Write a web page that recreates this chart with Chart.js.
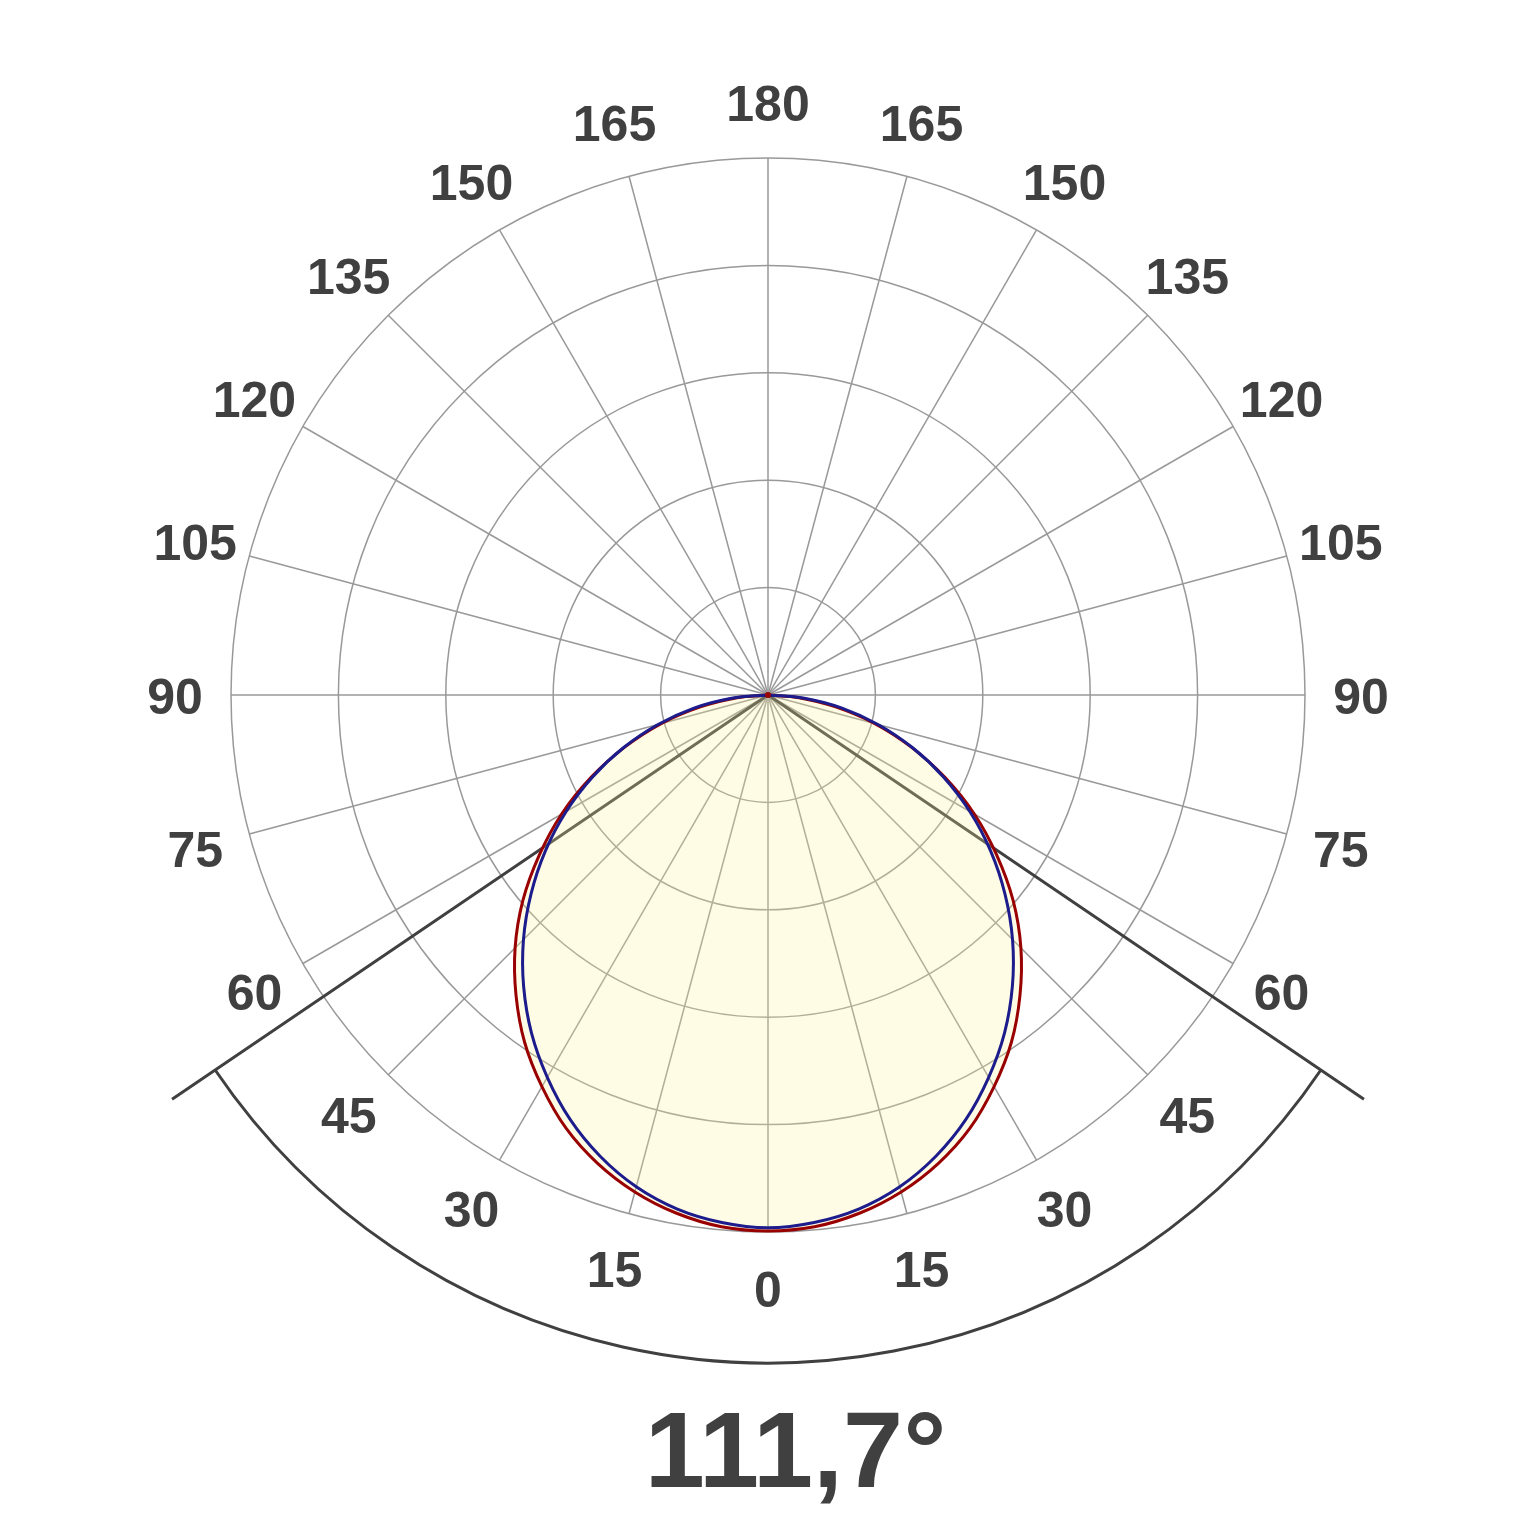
<!DOCTYPE html>
<html>
<head>
<meta charset="utf-8">
<script src="https://cdn.jsdelivr.net/npm/chart.js@4.4.1/dist/chart.umd.min.js"></script>
<style>
  html, body { margin: 0; padding: 0; background: #fff; }
  #wrap { width: 1536px; height: 1536px; }
</style>
</head>
<body>
<div id="wrap"><canvas id="polarChart"></canvas></div>
<script>
// gamma angles (deg) of one half plane, 0 = straight down, 180 = up
const gamma = [0, 5, 10, 15, 20, 25, 30, 35, 40, 45, 50, 55, 60, 65, 70, 75, 80, 85, 90,
  95, 100, 105, 110, 115, 120, 125, 130, 135, 140, 145, 150, 155, 160, 165, 170, 175, 180];
// red curve (C0 - C180)
const intensityC0 = [499, 497, 490, 479, 464, 445, 421, 395, 365, 333, 298, 260, 222, 182, 142, 103, 64, 29, 0,
  0, 0, 0, 0, 0, 0, 0, 0, 0, 0, 0, 0, 0, 0, 0, 0, 0, 0];
// blue curve (C90 - C270)
const intensityC90 = [496, 493, 486, 474, 457, 436, 411, 384, 354, 322, 288, 253, 217, 180, 143, 106, 70, 34, 0,
  0, 0, 0, 0, 0, 0, 0, 0, 0, 0, 0, 0, 0, 0, 0, 0, 0, 0];
const tickAngles = [0, 15, 30, 45, 60, 75, 90, 105, 120, 135, 150, 165, 180];
const beamAngle = 111.7;
const beamText = '111,7°';

// full turn: 0..180 down the left side, then 175..5 back on the right side (symmetric plane)
const mirror = arr => arr.concat(arr.slice(1, -1).reverse());
const labels = mirror(gamma);

const FONT = '"Liberation Sans", Arial, sans-serif';

const polarDecor = {
  id: 'polarDecor',
  beforeDatasetsDraw(chart) {
    const r = chart.scales.r, ctx = chart.ctx;
    const half = beamAngle / 2 * labels.length / 360;
    const lineLen = r.drawingArea * 1.341, arcR = r.drawingArea * 1.244;
    const pL = r.getPointPosition(half, lineLen), pR = r.getPointPosition(-half, lineLen);
    ctx.save();
    ctx.strokeStyle = '#404040';
    ctx.lineWidth = 3;
    ctx.beginPath();
    ctx.moveTo(pL.x, pL.y);
    ctx.lineTo(r.xCenter, r.yCenter);
    ctx.lineTo(pR.x, pR.y);
    ctx.stroke();
    const aL = r.getIndexAngle(half) - Math.PI / 2, aR = r.getIndexAngle(-half) - Math.PI / 2;
    ctx.beginPath();
    ctx.arc(r.xCenter, r.yCenter, arcR, aR, aL);
    ctx.stroke();
    ctx.restore();
  },
  afterDraw(chart) {
    const r = chart.scales.r, ctx = chart.ctx;
    ctx.save();
    ctx.fillStyle = '#404040';
    ctx.font = 'bold 50px ' + FONT;
    ctx.textAlign = 'center';
    ctx.textBaseline = 'middle';
    tickAngles.forEach(a => {
      new Set([labels.indexOf(a), labels.lastIndexOf(a)]).forEach(i => {
        const p = r.getPointPosition(i, r.drawingArea + 56);
        ctx.fillText(String(a), p.x, p.y + 5);
      });
    });
    // small mark at the lamp position
    ctx.fillStyle = '#990000';
    ctx.beginPath();
    ctx.arc(r.xCenter, r.yCenter, 3, 0, Math.PI * 2);
    ctx.fill();
    // beam angle caption
    ctx.fillStyle = '#404040';
    ctx.font = 'bold 108px ' + FONT;
    ctx.textAlign = 'left';
    ctx.textBaseline = 'alphabetic';
    const num = beamText.replace('°', '');
    ctx.fillText(beamText, r.xCenter - ctx.measureText(num).width / 2 + 6, r.yCenter + 792);
    ctx.restore();
  }
};

new Chart(document.getElementById('polarChart'), {
  type: 'radar',
  data: {
    labels: labels,
    datasets: [
      { label: 'C90-C270', data: mirror(intensityC90), borderColor: '#1c1c8c', borderWidth: 3,
        fill: false, pointRadius: 0, tension: 0.35 },
      { label: 'C0-C180', data: mirror(intensityC0), borderColor: '#990000', borderWidth: 3,
        backgroundColor: 'rgba(255,242,150,0.25)', fill: 'origin', pointRadius: 0, tension: 0.35 }
    ]
  },
  options: {
    responsive: true, maintainAspectRatio: false, animation: false, events: [],
    layout: { padding: { left: 231, right: 231, top: 158, bottom: 304 } },
    plugins: { legend: { display: false }, tooltip: { enabled: false } },
    elements: { line: { capBezierPoints: false } },
    scales: {
      r: {
        min: 0, max: 500, startAngle: 180,
        ticks: { display: false, stepSize: 100 },
        grid: { circular: true, color: '#999999', lineWidth: 1.5 },
        angleLines: { color: '#999999', lineWidth: c => tickAngles.includes(Number(c.label)) ? 1.5 : 0 },
        pointLabels: { display: false }
      }
    }
  },
  plugins: [polarDecor]
});
</script>
</body>
</html>
